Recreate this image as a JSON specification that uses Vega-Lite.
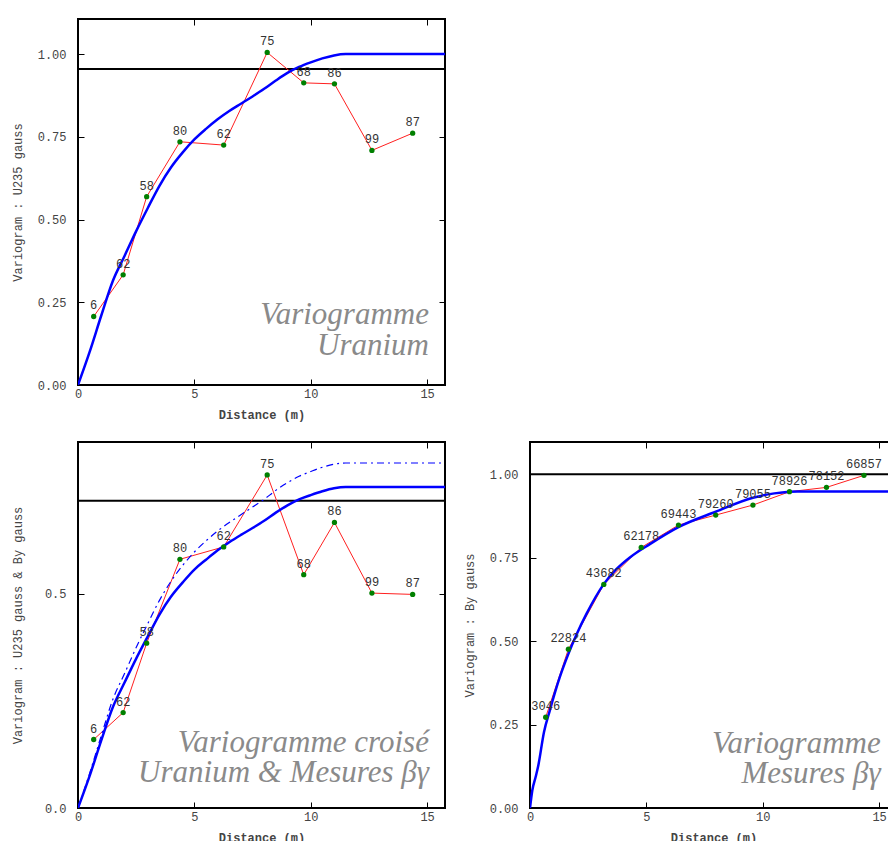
{
  "$schema": "https://vega.github.io/schema/vega-lite/v6.json",
  "background": "white",
  "padding": {"left": 10, "top": 17, "right": 0, "bottom": 0},
  "datasets": {
    "model1": [
      {"d": 0, "g": 0}, {"d": 0.5, "g": 0.10}, {"d": 1.0, "g": 0.21}, {"d": 1.5, "g": 0.315},
      {"d": 2.0, "g": 0.39}, {"d": 2.5, "g": 0.465}, {"d": 3.0, "g": 0.535}, {"d": 3.5, "g": 0.602},
      {"d": 4.0, "g": 0.658}, {"d": 4.5, "g": 0.703}, {"d": 5.0, "g": 0.742}, {"d": 5.5, "g": 0.774},
      {"d": 6.0, "g": 0.803}, {"d": 6.5, "g": 0.828}, {"d": 7.0, "g": 0.85}, {"d": 7.5, "g": 0.872},
      {"d": 8.0, "g": 0.895}, {"d": 8.5, "g": 0.92}, {"d": 9.0, "g": 0.943}, {"d": 9.5, "g": 0.961},
      {"d": 10.0, "g": 0.975}, {"d": 10.5, "g": 0.987}, {"d": 11.0, "g": 0.996}, {"d": 11.5, "g": 1.0},
      {"d": 15.77, "g": 1.0}
    ],
    "exp1": [
      {"d": 0.675, "g": 0.207, "n": "6"}, {"d": 1.94, "g": 0.333, "n": "62"}, {"d": 2.95, "g": 0.569, "n": "58"},
      {"d": 4.38, "g": 0.735, "n": "80"}, {"d": 6.26, "g": 0.725, "n": "62"}, {"d": 8.13, "g": 1.005, "n": "75"},
      {"d": 9.70, "g": 0.913, "n": "68"}, {"d": 11.02, "g": 0.910, "n": "86"}, {"d": 12.63, "g": 0.709, "n": "99"},
      {"d": 14.38, "g": 0.761, "n": "87"}
    ],
    "model2s": [
      {"d": 0, "g": 0}, {"d": 0.5, "g": 0.075}, {"d": 1.0, "g": 0.158}, {"d": 1.5, "g": 0.236},
      {"d": 2.0, "g": 0.293}, {"d": 2.5, "g": 0.349}, {"d": 3.0, "g": 0.401}, {"d": 3.5, "g": 0.452},
      {"d": 4.0, "g": 0.494}, {"d": 4.5, "g": 0.527}, {"d": 5.0, "g": 0.557}, {"d": 5.5, "g": 0.58},
      {"d": 6.0, "g": 0.602}, {"d": 6.5, "g": 0.621}, {"d": 7.0, "g": 0.638}, {"d": 7.5, "g": 0.654},
      {"d": 8.0, "g": 0.671}, {"d": 8.5, "g": 0.69}, {"d": 9.0, "g": 0.707}, {"d": 9.5, "g": 0.721},
      {"d": 10.0, "g": 0.731}, {"d": 10.5, "g": 0.74}, {"d": 11.0, "g": 0.747}, {"d": 11.5, "g": 0.75},
      {"d": 15.77, "g": 0.75}
    ],
    "model2d": [
      {"d": 0, "g": 0}, {"d": 0.5, "g": 0.081}, {"d": 1.0, "g": 0.169}, {"d": 1.5, "g": 0.254},
      {"d": 2.0, "g": 0.314}, {"d": 2.5, "g": 0.375}, {"d": 3.0, "g": 0.431}, {"d": 3.5, "g": 0.485},
      {"d": 4.0, "g": 0.53}, {"d": 4.5, "g": 0.567}, {"d": 5.0, "g": 0.598}, {"d": 5.5, "g": 0.624},
      {"d": 6.0, "g": 0.647}, {"d": 6.5, "g": 0.667}, {"d": 7.0, "g": 0.685}, {"d": 7.5, "g": 0.703},
      {"d": 8.0, "g": 0.721}, {"d": 8.5, "g": 0.742}, {"d": 9.0, "g": 0.76}, {"d": 9.5, "g": 0.775},
      {"d": 10.0, "g": 0.786}, {"d": 10.5, "g": 0.796}, {"d": 11.0, "g": 0.803}, {"d": 11.5, "g": 0.806},
      {"d": 15.77, "g": 0.806}
    ],
    "exp2": [
      {"d": 0.675, "g": 0.160, "n": "6"}, {"d": 1.94, "g": 0.223, "n": "62"}, {"d": 2.95, "g": 0.385, "n": "58"},
      {"d": 4.38, "g": 0.581, "n": "80"}, {"d": 6.26, "g": 0.610, "n": "62"}, {"d": 8.13, "g": 0.778, "n": "75"},
      {"d": 9.70, "g": 0.545, "n": "68"}, {"d": 11.02, "g": 0.667, "n": "86"}, {"d": 12.63, "g": 0.502, "n": "99"},
      {"d": 14.38, "g": 0.499, "n": "87"}
    ],
    "model3": [
      {"d": 0, "g": 0}, {"d": 0.1, "g": 0.053}, {"d": 0.25, "g": 0.095}, {"d": 0.35, "g": 0.125},
      {"d": 0.6, "g": 0.227}, {"d": 0.85, "g": 0.292}, {"d": 1.28, "g": 0.392}, {"d": 1.65, "g": 0.462},
      {"d": 2.0, "g": 0.52}, {"d": 2.42, "g": 0.581}, {"d": 3.17, "g": 0.671}, {"d": 3.7, "g": 0.715},
      {"d": 4.29, "g": 0.751}, {"d": 5.15, "g": 0.791}, {"d": 6.38, "g": 0.842}, {"d": 7.98, "g": 0.888},
      {"d": 9.58, "g": 0.93}, {"d": 10.5, "g": 0.943}, {"d": 11.15, "g": 0.948}, {"d": 11.5, "g": 0.949},
      {"d": 15.77, "g": 0.949}
    ],
    "exp3": [
      {"d": 0.674, "g": 0.272, "n": "3046"}, {"d": 1.65, "g": 0.476, "n": "22824"}, {"d": 3.17, "g": 0.670, "n": "43682"},
      {"d": 4.78, "g": 0.781, "n": "62178"}, {"d": 6.38, "g": 0.848, "n": "69443"}, {"d": 7.98, "g": 0.878, "n": "79260"},
      {"d": 9.58, "g": 0.908, "n": "79055"}, {"d": 11.15, "g": 0.948, "n": "78926"}, {"d": 12.74, "g": 0.961, "n": "78152"},
      {"d": 14.35, "g": 0.997, "n": "66857"}
    ]
  },
  "vconcat": [
    {
      "width": 367, "height": 366,
      "resolve": {"axis": {"x": "independent", "y": "independent"}},
      "layer": [
        {
          "data": {"values": [{"sill": 0.955}]},
          "mark": {"type": "rule", "color": "black", "strokeWidth": 2},
          "encoding": {"y": {"field": "sill", "type": "quantitative", "scale": {"domain": [0, 1.106], "nice": false}, "axis": null}}
        },
        {
          "data": {"name": "exp1"},
          "mark": {"type": "line", "color": "#ff2020", "strokeWidth": 1},
          "encoding": {
            "x": {"field": "d", "type": "quantitative", "scale": {"domain": [0, 15.77], "nice": false, "zero": false},
                  "axis": {"orient": "top", "values": [0, 5, 10, 15], "labels": false, "title": null, "minExtent": 0, "maxExtent": 0}},
            "y": {"field": "g", "type": "quantitative", "scale": {"domain": [0, 1.106], "nice": false},
                  "axis": {"orient": "right", "values": [0, 0.25, 0.5, 0.75, 1], "labels": false, "title": null, "minExtent": 0, "maxExtent": 0}}
          }
        },
        {
          "data": {"name": "model1"},
          "mark": {"type": "line", "color": "#0000ff", "strokeWidth": 2.5, "clip": true, "interpolate": "monotone"},
          "encoding": {
            "x": {"field": "d", "type": "quantitative", "scale": {"domain": [0, 15.77], "nice": false, "zero": false},
                  "axis": {"orient": "bottom", "values": [0, 5, 10, 15], "title": "Distance (m)"}},
            "y": {"field": "g", "type": "quantitative", "scale": {"domain": [0, 1.106], "nice": false},
                  "axis": {"orient": "left", "values": [0, 0.25, 0.5, 0.75, 1], "format": ".2f", "title": "Variogram : U235 gauss"}}
          }
        },
        {
          "data": {"name": "exp1"},
          "mark": {"type": "circle", "color": "#008000", "size": 28, "opacity": 1},
          "encoding": {
            "x": {"field": "d", "type": "quantitative", "axis": null},
            "y": {"field": "g", "type": "quantitative", "axis": null}
          }
        },
        {
          "data": {"name": "exp1"},
          "mark": {"type": "text", "dy": -7, "baseline": "alphabetic", "font": "Liberation Mono", "fontSize": 12, "color": "#333"},
          "encoding": {
            "x": {"field": "d", "type": "quantitative", "axis": null},
            "y": {"field": "g", "type": "quantitative", "axis": null},
            "text": {"field": "n"}
          }
        },
        {
          "data": {"values": [{"caption": "Variogramme\nUranium"}]},
          "mark": {"type": "text", "align": "right", "baseline": "alphabetic", "lineBreak": "\n", "lineHeight": 31, "font": "Liberation Serif", "fontStyle": "italic", "fontSize": 31, "color": "#8a8a8a"},
          "encoding": {
            "x": {"datum": 15.08, "type": "quantitative", "axis": null},
            "y": {"datum": 0.185, "type": "quantitative", "axis": null},
            "text": {"field": "caption"}
          }
        }
      ]
    },
    {
      "spacing": 15,
      "hconcat": [
        {
          "width": 367, "height": 366,
          "resolve": {"axis": {"x": "independent", "y": "independent"}},
          "layer": [
            {
              "data": {"values": [{"sill": 0.718}]},
              "mark": {"type": "rule", "color": "black", "strokeWidth": 2},
              "encoding": {"y": {"field": "sill", "type": "quantitative", "scale": {"domain": [0, 0.855], "nice": false}, "axis": null}}
            },
            {
              "data": {"name": "exp2"},
              "mark": {"type": "line", "color": "#ff2020", "strokeWidth": 1},
              "encoding": {
                "x": {"field": "d", "type": "quantitative", "scale": {"domain": [0, 15.77], "nice": false, "zero": false},
                      "axis": {"orient": "top", "values": [0, 5, 10, 15], "labels": false, "title": null, "minExtent": 0, "maxExtent": 0}},
                "y": {"field": "g", "type": "quantitative", "scale": {"domain": [0, 0.855], "nice": false},
                      "axis": {"orient": "right", "values": [0, 0.5], "labels": false, "title": null, "minExtent": 0, "maxExtent": 0}}
              }
            },
            {
              "data": {"name": "model2d"},
              "mark": {"type": "line", "color": "#0000ff", "strokeWidth": 1.2, "strokeDash": [7, 4, 2, 4], "clip": true, "interpolate": "monotone"},
              "encoding": {
                "x": {"field": "d", "type": "quantitative", "axis": null},
                "y": {"field": "g", "type": "quantitative", "axis": null}
              }
            },
            {
              "data": {"name": "model2s"},
              "mark": {"type": "line", "color": "#0000ff", "strokeWidth": 2.5, "clip": true, "interpolate": "monotone"},
              "encoding": {
                "x": {"field": "d", "type": "quantitative", "scale": {"domain": [0, 15.77], "nice": false, "zero": false},
                      "axis": {"orient": "bottom", "values": [0, 5, 10, 15], "title": "Distance (m)"}},
                "y": {"field": "g", "type": "quantitative", "scale": {"domain": [0, 0.855], "nice": false},
                      "axis": {"orient": "left", "values": [0, 0.5], "format": ".1f", "title": "Variogram : U235 gauss & By gauss"}}
              }
            },
            {
              "data": {"name": "exp2"},
              "mark": {"type": "circle", "color": "#008000", "size": 28, "opacity": 1},
              "encoding": {
                "x": {"field": "d", "type": "quantitative", "axis": null},
                "y": {"field": "g", "type": "quantitative", "axis": null}
              }
            },
            {
              "data": {"name": "exp2"},
              "mark": {"type": "text", "dy": -7, "baseline": "alphabetic", "font": "Liberation Mono", "fontSize": 12, "color": "#333"},
              "encoding": {
                "x": {"field": "d", "type": "quantitative", "axis": null},
                "y": {"field": "g", "type": "quantitative", "axis": null},
                "text": {"field": "n"}
              }
            },
            {
              "data": {"values": [{"caption": "Variogramme croisé\nUranium & Mesures βγ"}]},
              "mark": {"type": "text", "align": "right", "baseline": "alphabetic", "lineBreak": "\n", "lineHeight": 30.5, "font": "Liberation Serif", "fontStyle": "italic", "fontSize": 31, "color": "#8a8a8a"},
              "encoding": {
                "x": {"datum": 15.08, "type": "quantitative", "axis": null},
                "y": {"datum": 0.131, "type": "quantitative", "axis": null},
                "text": {"field": "caption"}
              }
            }
          ]
        },
        {
          "width": 367, "height": 366,
          "resolve": {"axis": {"x": "independent", "y": "independent"}},
          "layer": [
            {
              "data": {"values": [{"sill": 1.0}]},
              "mark": {"type": "rule", "color": "black", "strokeWidth": 2},
              "encoding": {"y": {"field": "sill", "type": "quantitative", "scale": {"domain": [0, 1.097], "nice": false}, "axis": null}}
            },
            {
              "data": {"name": "exp3"},
              "mark": {"type": "line", "color": "#ff2020", "strokeWidth": 1},
              "encoding": {
                "x": {"field": "d", "type": "quantitative", "scale": {"domain": [0, 15.77], "nice": false, "zero": false},
                      "axis": {"orient": "top", "values": [0, 5, 10, 15], "labels": false, "title": null, "minExtent": 0, "maxExtent": 0}},
                "y": {"field": "g", "type": "quantitative", "scale": {"domain": [0, 1.097], "nice": false},
                      "axis": {"orient": "right", "values": [0, 0.25, 0.5, 0.75, 1], "labels": false, "title": null, "minExtent": 0, "maxExtent": 0}}
              }
            },
            {
              "data": {"name": "model3"},
              "mark": {"type": "line", "color": "#0000ff", "strokeWidth": 2.5, "clip": true, "interpolate": "monotone"},
              "encoding": {
                "x": {"field": "d", "type": "quantitative", "scale": {"domain": [0, 15.77], "nice": false, "zero": false},
                      "axis": {"orient": "bottom", "values": [0, 5, 10, 15], "title": "Distance (m)"}},
                "y": {"field": "g", "type": "quantitative", "scale": {"domain": [0, 1.097], "nice": false},
                      "axis": {"orient": "left", "values": [0, 0.25, 0.5, 0.75, 1], "format": ".2f", "title": "Variogram : By gauss"}}
              }
            },
            {
              "data": {"name": "exp3"},
              "mark": {"type": "circle", "color": "#008000", "size": 28, "opacity": 1},
              "encoding": {
                "x": {"field": "d", "type": "quantitative", "axis": null},
                "y": {"field": "g", "type": "quantitative", "axis": null}
              }
            },
            {
              "data": {"name": "exp3"},
              "mark": {"type": "text", "dy": -7, "baseline": "alphabetic", "font": "Liberation Mono", "fontSize": 12, "color": "#333"},
              "encoding": {
                "x": {"field": "d", "type": "quantitative", "axis": null},
                "y": {"field": "g", "type": "quantitative", "axis": null},
                "text": {"field": "n"}
              }
            },
            {
              "data": {"values": [{"caption": "Variogramme\nMesures βγ"}]},
              "mark": {"type": "text", "align": "right", "baseline": "alphabetic", "lineBreak": "\n", "lineHeight": 30, "font": "Liberation Serif", "fontStyle": "italic", "fontSize": 31, "color": "#8a8a8a"},
              "encoding": {
                "x": {"datum": 15.07, "type": "quantitative", "axis": null},
                "y": {"datum": 0.1645, "type": "quantitative", "axis": null},
                "text": {"field": "caption"}
              }
            }
          ]
        }
      ]
    }
  ],
  "spacing": 19,
  "config": {
    "view": {"stroke": "black", "strokeWidth": 2},
    "axis": {
      "domain": false, "grid": false, "tickColor": "black", "tickSize": -6, "tickWidth": 1,
      "labelFont": "Liberation Mono", "labelFontSize": 12, "labelColor": "#444", "labelFlush": false, "labelOverlap": false,
      "titleFont": "Liberation Mono", "titleFontSize": 12, "titleColor": "#444", "titleFontWeight": "normal"
    },
    "axisX": {"labelPadding": 9, "minExtent": 15, "maxExtent": 15, "titlePadding": 9, "titleFontWeight": "bold"},
    "axisY": {"labelPadding": 18, "minExtent": 42, "maxExtent": 42, "titlePadding": 12}
  }
}
